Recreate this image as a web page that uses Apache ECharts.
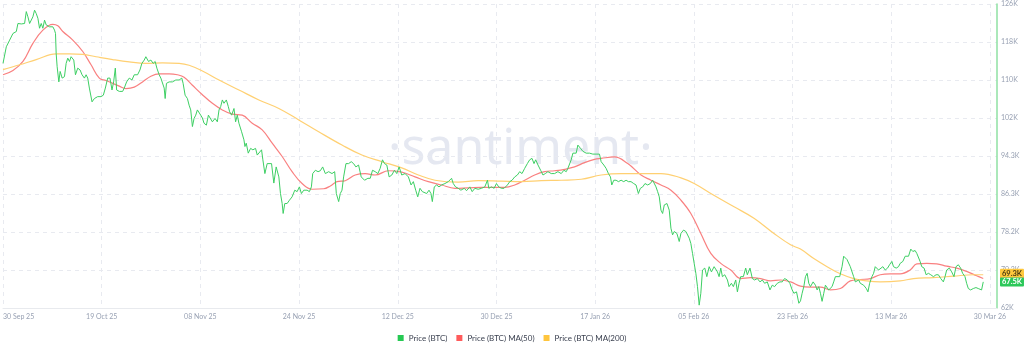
<!DOCTYPE html>
<html>
<head>
<meta charset="utf-8">
<script src="https://cdn.jsdelivr.net/npm/echarts@6/dist/echarts.min.js"></script>
<style>html,body{margin:0;padding:0;background:#fff}#c{width:1024px;height:347px}</style>
</head>
<body>
<div id="c"></div>
<script>
// x positions in days since 30 Sep 25
const xTickDays = [0, 18.1, 36.2, 54.3, 72.4, 90.5, 108.6, 126.7, 144.8, 162.9, 181];
const xTickLabels = ['30 Sep 25','19 Oct 25','08 Nov 25','24 Nov 25','12 Dec 25','30 Dec 25','17 Jan 26','05 Feb 26','23 Feb 26','13 Mar 26','30 Mar 26'];
const yTickValues = [62, 70, 78, 86, 94, 102, 110, 118, 126];
const yTickLabels = ['62K','70.2K','78.2K','86.3K','94.3K','102K','110K','118K','126K'];

const priceDays = [0,0.61,1.22,1.83,2.44,2.74,3.35,3.96,4.27,4.57,4.88,5.48,5.79,6.09,6.40,6.70,7.01,7.31,7.62,7.92,8.53,8.84,9.14,9.45,9.63,9.75,9.93,10.24,10.48,10.85,11.27,11.58,11.88,12.19,12.49,12.80,12.98,13.29,13.71,14.14,14.50,14.93,15.24,15.54,15.84,16.15,16.33,16.76,17.37,17.98,18.40,18.77,19.20,19.62,19.99,20.29,20.60,20.84,21.33,21.63,21.94,22.24,22.67,23.16,23.65,24.07,24.68,25.11,25.47,25.90,26.20,26.69,27.12,27.54,27.91,28.22,28.64,28.95,29.25,29.56,29.74,29.98,30.47,31.08,31.69,32.30,32.79,33.03,33.40,33.82,34.13,34.43,34.74,35.04,35.35,35.65,36.26,
36.57,36.87,37.30,37.67,37.91,38.40,38.89,39.31,39.62,39.92,40.23,40.53,40.96,41.32,41.57,41.93,42.36,42.66,42.97,43.27,43.76,44.19,44.37,44.61,44.98,45.41,45.83,46.32,46.63,46.93,47.42,47.66,48.03,48.45,48.76,49.25,49.67,50.10,50.59,50.89,51.20,51.38,51.68,52.11,52.54,53.02,53.51,53.94,54.36,54.73,55.16,55.77,56.19,56.56,56.80,57.29,57.78,58.20,58.63,59.12,59.73,60.34,60.83,61.13,61.56,61.86,62.17,62.47,62.90,63.38,63.87,64.30,64.72,65.21,65.70,66.31,66.92,67.35,67.77,68.26,68.75,69.17,69.60,69.97,70.39,70.82,71.31,71.79,72.22,72.65,
73.13,73.74,74.35,74.84,75.26,75.69,76.06,76.48,76.91,77.27,77.70,78.13,78.49,78.74,79.10,79.53,79.96,80.44,81.05,81.66,82.27,82.58,83.00,83.49,83.98,84.59,85.01,85.62,86.05,86.54,87.15,87.76,88.37,88.85,89.10,89.58,90.07,90.50,90.92,91.41,91.90,92.51,92.94,93.36,93.85,94.34,94.76,95.19,95.68,96.17,96.59,97.02,97.39,97.69,98.12,98.60,99.03,99.46,99.94,100.55,101.16,101.77,102.38,102.87,103.30,103.60,103.91,104.21,104.52,104.82,105.12,105.43,105.92,106.34,106.95,107.56,108.17,108.78,109.39,
109.70,110.19,110.61,111.04,111.41,111.65,112.02,112.44,112.87,113.36,113.84,114.27,114.70,115.18,115.67,116.10,116.53,116.89,117.32,117.74,118.23,118.72,119.15,119.45,119.76,120.06,120.36,120.67,120.97,121.28,121.77,122.19,122.50,122.80,123.11,123.59,124.02,124.33,124.81,125.24,125.54,125.85,126.15,126.46,126.76,127.07,127.37,127.68,127.98,128.29,128.71,129.08,129.51,129.93,130.42,130.72,131.03,131.33,131.64,131.94,132.37,132.86,133.16,133.59,133.95,134.38,134.69,134.99,135.29,135.78,136.21,136.51,137.00,137.43,137.85,138.34,138.83,139.26,139.68,140.17,140.66,141.08,141.51,142.00,142.49,142.91,143.34,143.83,144.31,144.74,145.05,145.53,145.96,
146.26,146.56,146.87,147.17,147.48,147.78,148.09,148.58,149.00,149.31,149.61,149.92,150.22,150.53,150.83,151.14,151.44,151.74,152.05,152.35,152.66,152.96,153.45,153.88,154.18,154.49,154.79,155.10,155.40,155.71,156.01,156.32,156.62,156.93,157.23,157.84,158.33,158.63,158.94,159.36,159.67,159.97,160.28,160.58,160.89,161.37,161.80,162.23,162.59,163.02,163.32,163.81,164.24,164.54,165.03,165.46,165.76,166.07,166.49,166.86,167.28,167.59,167.89,168.20,168.50,168.93,169.30,169.72,170.15,170.64,171.12,171.55,171.98,172.46,172.77,173.07,173.56,173.99,174.41,174.78,175.21,175.63,176.00,176.43,176.73,177.04,177.46,177.95,178.44,178.86,179.17,179.47,179.78];

const priceValues = [113.5,117.0,118.4,119.8,120.2,121.9,121.8,121.9,124.4,123.3,121.9,123.3,124.7,124.0,123.0,120.9,121.9,120.9,122.6,121.6,121.2,120.9,121.2,120.5,119.8,115.6,112.8,109.6,111.8,110.4,110.7,113.5,114.6,113.9,114.9,115.3,114.2,111.1,112.5,112.1,111.1,110.4,111.1,110.4,108.3,108.6,105.4,106.1,106.5,106.5,106.8,108.3,110.4,110.4,107.9,109.6,112.5,107.9,107.6,107.9,107.6,108.3,109.6,110.4,110.0,111.1,111.1,112.1,113.5,114.2,114.9,113.9,114.2,113.5,113.9,112.5,111.1,110.4,110.0,108.3,106.1,109.3,109.6,109.6,110.0,110.0,110.4,109.3,106.8,106.1,104.7,103.7,100.2,101.9,102.6,103.7,102.6,
102.0,100.9,100.5,102.6,102.2,101.2,101.9,101.2,103.7,104.4,105.8,105.1,105.8,104.4,103.3,102.6,104.0,101.2,102.6,100.9,99.1,97.4,96.0,96.7,94.6,95.6,95.3,95.6,94.2,93.9,95.3,93.2,90.3,92.4,92.1,92.4,88.3,91.7,89.6,86.1,84.0,81.9,84.0,84.0,84.7,85.4,86.8,86.5,87.5,86.1,86.8,86.8,86.5,87.5,90.3,91.0,90.7,90.9,91.7,90.3,90.7,90.3,90.7,86.1,84.4,86.1,86.8,89.6,92.4,92.4,92.8,92.4,91.7,92.1,89.6,88.9,89.3,89.3,91.0,90.7,90.3,91.4,93.2,92.4,92.1,89.6,90.0,91.0,90.3,91.7,
90.0,90.3,89.6,87.9,88.6,86.8,85.4,87.2,86.5,86.8,86.1,86.8,86.1,84.4,87.5,87.9,87.5,87.9,88.2,88.6,89.3,88.2,87.5,87.2,86.8,87.2,86.7,87.5,86.5,87.2,87.0,87.2,87.5,88.9,87.2,87.5,87.2,88.2,87.5,87.2,87.2,87.9,88.6,88.9,89.6,90.0,90.7,90.3,91.4,92.4,93.2,93.5,92.4,93.2,92.1,91.0,90.0,90.3,90.7,90.3,90.3,90.7,90.3,91.0,90.7,91.4,91.0,93.2,94.6,94.9,94.6,96.3,95.6,95.0,94.6,94.6,94.4,94.4,94.4,
92.8,92.1,91.4,90.3,89.6,87.9,88.9,88.9,88.6,88.9,88.6,88.9,88.6,88.6,88.2,87.9,86.1,87.2,87.5,88.2,87.9,88.2,88.9,89.3,87.5,86.5,85.4,82.6,81.9,83.7,84.0,82.6,78.8,77.4,78.1,77.7,76.0,77.7,78.4,78.1,78.4,76.7,75.6,73.5,71.4,69.3,66.5,62.6,65.1,70.0,70.4,68.6,70.7,69.6,70.7,71.1,69.6,68.6,70.4,68.6,69.0,67.9,66.5,67.2,66.5,67.9,65.4,67.2,68.6,68.6,70.4,69.0,70.4,68.2,67.9,68.2,67.5,67.9,67.2,67.5,65.8,66.8,66.5,67.2,67.5,67.5,68.2,67.9,67.2,65.8,65.1,65.4,63.0,
63.5,65.1,66.5,68.6,69.3,67.2,66.5,67.5,66.8,65.8,66.5,65.1,63.4,65.1,66.8,66.5,65.8,65.4,66.5,67.5,68.6,69.0,68.6,70.7,72.9,73.3,72.2,72.6,70.7,70.4,68.6,67.5,67.2,67.9,67.2,66.8,66.1,65.4,67.2,68.6,69.3,70.7,71.1,70.0,69.6,70.7,70.0,70.4,71.1,71.8,70.7,70.4,70.7,71.4,71.8,72.9,73.3,72.9,74.4,73.9,74.1,73.5,73.5,71.8,70.7,70.4,69.0,69.3,69.0,68.6,69.0,69.0,68.2,67.5,68.6,70.0,70.4,69.6,68.6,70.7,71.1,70.4,69.3,68.6,67.2,66.1,65.8,66.1,66.3,66.1,66.5,65.8,67.5];

const ma50Days = [0,1.83,3.66,5.48,7.31,9.14,10.06,10.97,12.80,14.63,16.15,17.67,18.89,20.11,21.33,22.55,24.07,25.59,27.12,28.64,30.47,31.99,33.21,34.74,36.57,38.40,40.23,42.05,43.88,45.71,47.54,49.37,51.20,53.02,54.85,56.68,58.81,60.03,61.25,62.77,64.60,66.43,68.26,70.70,73.13,75.57,78.01,80.44,82.88,85.32,87.76,90.19,92.02,93.85,95.68,97.51,99.33,101.16,102.99,104.82,106.65,108.48,109.70,112.14,114.58,117.01,118.84,120.67,122.50,124.33,126.15,127.98,129.81,131.64,133.47,135.29,137.12,138.95,140.78,142.61,144.44,146.26,148.09,149.92,151.74,153.57,155.40,157.23,159.06,160.89,162.71,164.54,166.37,167.59,169.42,171.25,173.07,174.90,176.73,178.56,179.78];
const ma50Values = [111.1,112.0,113.9,117.7,120.5,121.7,121.4,120.2,118.4,116.0,113.2,110.4,109.9,109.3,108.7,108.2,108.5,109.6,110.8,111.3,111.3,111.1,110.6,108.9,106.9,105.1,103.7,102.8,102.6,100.9,99.5,96.7,93.9,90.7,88.2,87.0,87.1,87.7,88.6,88.8,90.0,90.3,90.0,90.9,90.6,89.6,88.6,87.9,87.2,87.3,87.4,87.4,87.4,87.9,88.9,90.0,90.7,90.9,91.2,91.7,92.6,93.3,93.5,93.8,92.4,90.0,88.9,87.9,86.8,84.7,81.9,77.7,73.5,71.4,70.0,68.2,68.4,68.2,67.7,67.9,67.5,66.6,66.4,66.4,65.8,66.1,67.7,68.0,68.2,69.0,69.2,69.2,70.0,71.3,71.4,71.3,70.8,70.4,69.7,68.8,68.2];

const ma200Days = [0,3.05,6.09,9.75,12.19,14.63,17.06,20.11,23.16,26.20,29.25,32.30,34.13,36.57,39.62,43.27,46.93,50.59,54.24,57.90,62.17,65.82,69.48,73.13,76.18,79.22,83.49,87.15,91.41,95.07,98.73,102.38,106.04,109.70,113.36,117.01,120.67,124.33,126.76,129.81,134.08,137.73,141.39,144.44,146.26,148.70,151.14,153.57,156.01,158.45,160.89,164.54,166.98,170.64,174.29,177.95,179.78];
const ma200Values = [112.2,113.2,114.3,115.5,115.5,115.4,114.9,114.3,113.8,113.5,113.6,113.5,113.1,111.9,110.0,107.9,105.8,104.0,101.6,99.1,96.3,94.2,92.8,91.5,90.0,88.9,88.5,88.8,88.7,88.6,88.8,88.9,89.1,90.0,90.3,90.3,90.3,89.4,88.2,86.1,83.3,80.9,77.7,75.3,74.4,72.4,70.7,69.2,68.2,67.7,67.5,67.7,68.2,68.4,68.7,69.0,69.0];

const lastBadges = { price: 67.5, ma50: 68.4, ma200: 69.3 };

const names = ['Price (BTC)', 'Price (BTC) MA(50)', 'Price (BTC) MA(200)'];
const legendColors = ['#26c953', '#ff5b5b', '#ffc53d'];
const lineColors = ['#3dcf63', '#f98080', '#ffd072'];

function pairs(xs, ys) { return xs.map((x, i) => [x, ys[i]]); }

function badge(value, bg, fg, z) {
  return {
    silent: true, symbol: ['none', 'none'], animation: false, z: z,
    lineStyle: { color: 'rgba(255,255,255,0)', width: 0, opacity: 1, type: 'solid' },
    label: {
      show: true, position: 'end', distance: 3, opacity: 1,
      formatter: () => value.toFixed(1) + 'K',
      backgroundColor: bg, color: fg, fontSize: 7.5, fontWeight: 'bold',
      fontFamily: 'Lato', padding: [1, 2, 0, 2], borderRadius: 1
    },
    emphasis: { disabled: true },
    data: [{ yAxis: value }]
  };
}

const chart = echarts.init(document.getElementById('c'), null, { renderer: 'canvas' });
chart.setOption({
  animation: false,
  backgroundColor: '#ffffff',
  textStyle: { fontFamily: 'Lato' },
  graphic: [{
    type: 'text', left: 388, top: 125, z: -10, silent: true,
    style: { text: '·santiment·', font: '50px "Noto Sans"', fill: '#e5e8f1' }
  }],
  grid: { left: 0, right: 27, top: 4, bottom: 39, containLabel: false },
  legend: {
    top: 329, left: 'center', icon: 'rect', itemWidth: 6, itemHeight: 6, itemGap: 9,
    textStyle: { fontSize: 8, color: '#3b4150', fontFamily: 'Lato' },
    data: names
  },
  xAxis: {
    type: 'value', min: 0, max: 182.3,
    axisLine: { show: true, onZero: false, lineStyle: { color: '#e8eaee' } },
    axisTick: { show: false, customValues: xTickDays },
    axisLabel: {
      customValues: xTickDays, fontSize: 7, color: '#98a1b3', margin: 5,
      alignMinLabel: 'left',
      formatter: v => { const i = xTickDays.indexOf(v); return i >= 0 ? xTickLabels[i] : ''; }
    },
    splitLine: { show: true, lineStyle: { color: '#e8eaf0', type: [4, 4] } }
  },
  yAxis: {
    type: 'value', position: 'right', min: 62, max: 126,
    axisLine: { show: true, onZero: false, lineStyle: { color: '#8fe0a3', width: 1.5 } },
    axisTick: { show: false, customValues: yTickValues },
    axisLabel: {
      customValues: yTickValues, fontSize: 7, color: '#98a1b3', margin: 4,
      formatter: v => { const i = yTickValues.indexOf(v); return i >= 0 ? yTickLabels[i] : ''; }
    },
    splitLine: { show: true, lineStyle: { color: '#e8eaf0', type: [4, 4] } }
  },
  series: [
    {
      name: names[0], type: 'line', z: 4, clip: false, showSymbol: false, symbol: 'none',
      data: pairs(priceDays, priceValues),
      itemStyle: { color: legendColors[0] },
      lineStyle: { color: lineColors[0], width: 1 },
      markLine: badge(lastBadges.price, '#2cc85a', '#ffffff', 9)
    },
    {
      name: names[1], type: 'line', z: 2, clip: false, showSymbol: false, symbol: 'none', smooth: 0.4,
      data: pairs(ma50Days, ma50Values),
      itemStyle: { color: legendColors[1] },
      lineStyle: { color: lineColors[1], width: 1.2 },
      markLine: badge(lastBadges.ma50, '#f87171', '#ffffff', 7)
    },
    {
      name: names[2], type: 'line', z: 3, clip: false, showSymbol: false, symbol: 'none', smooth: 0.4,
      data: pairs(ma200Days, ma200Values),
      itemStyle: { color: legendColors[2] },
      lineStyle: { color: lineColors[2], width: 1.2 },
      markLine: badge(lastBadges.ma200, '#ffc83d', '#4a3b10', 8)
    }
  ]
});
</script>
</body>
</html>
